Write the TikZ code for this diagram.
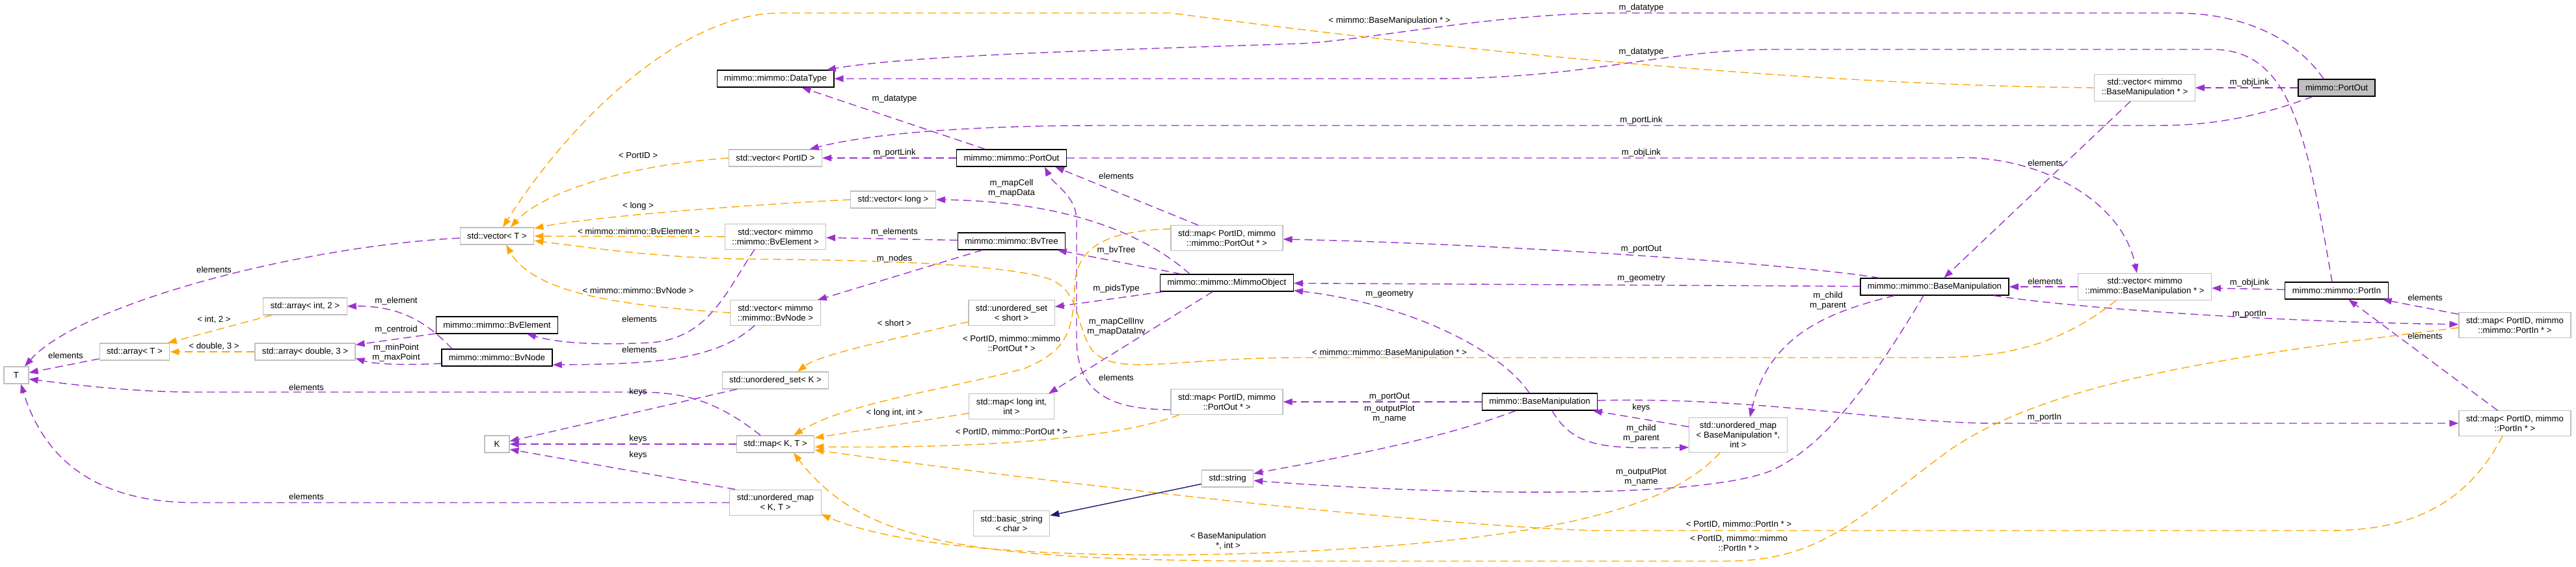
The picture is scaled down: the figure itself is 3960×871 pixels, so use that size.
\documentclass[tikz,border=0pt]{standalone}
\usepackage{fontspec}
\newfontfamily\doxfont{Liberation Sans}
\usepackage{xcolor}
\usepackage{tikz}
\usetikzlibrary{arrows.meta,calc}
\definecolor{edgepurple}{HTML}{9A32CD}
\definecolor{edgeorange}{HTML}{FFA500}
\definecolor{edgenavy}{HTML}{191970}
\definecolor{boxgray}{HTML}{BFBFBF}
\newcommand{\dxfont}{\doxfont\fontsize{13.2pt}{15pt}\selectfont}

\begin{document}
\begin{tikzpicture}[
  x=1pt, y=-1pt,
  box/.style={rectangle, draw=black, line width=1.3pt, fill=white, align=center, inner xsep=11pt, inner ysep=6.8pt, minimum height=26pt, minimum width=38pt, font=\dxfont},
  gbox/.style={box, draw=boxgray, line width=1.1pt},
  focal/.style={box, fill=boxgray},
  mem/.style={draw=edgepurple, line width=1.4pt, dash pattern=on 12pt off 7pt, -{Triangle[length=14pt,width=10pt]}},
  tmpl/.style={mem, draw=edgeorange},
  inh/.style={draw=edgenavy, line width=1.4pt, -{Triangle[length=14pt,width=10pt]}},
  lbl/.style={font=\dxfont, inner sep=0pt, align=center}
]
\useasboundingbox (0,0) rectangle (3960,871);

\node[focal] (portoutg) at (3592,135) {mimmo::PortOut};
\node[gbox] (vecbm) at (3297,135) {std::vector< mimmo\\::BaseManipulation * >};
\node[box] (datatype) at (1192,121) {mimmo::mimmo::DataType};
\node[gbox] (vecportid) at (1192,243) {std::vector< PortID >};
\node[box] (portout) at (1555,243) {mimmo::mimmo::PortOut};
\node[gbox] (veclong) at (1373,307) {std::vector< long >};
\node[gbox] (vecbvel) at (1192,364) {std::vector< mimmo\\::mimmo::BvElement >};
\node[box] (bvtree) at (1555,371) {mimmo::mimmo::BvTree};
\node[gbox] (mapportout) at (1886,366) {std::map< PortID, mimmo\\::mimmo::PortOut * >};
\node[box] (mimmoobj) at (1886,435) {mimmo::mimmo::MimmoObject};
\node[box] (bmm) at (2974,441) {mimmo::mimmo::BaseManipulation};
\node[gbox] (vecbmm) at (3297,441) {std::vector< mimmo\\::mimmo::BaseManipulation * >};
\node[box] (portin) at (3592,447) {mimmo::mimmo::PortIn};
\node[gbox] (mapportinm) at (3866,500) {std::map< PortID, mimmo\\::mimmo::PortIn * >};
\node[gbox] (mapportin) at (3866,651) {std::map< PortID, mimmo\\::PortIn * >};
\node[gbox] (T) at (25,577) {T};
\node[gbox] (arrT) at (207,541) {std::array< T >};
\node[gbox] (arrint) at (469,471) {std::array< int, 2 >};
\node[gbox] (arrdbl) at (469,541) {std::array< double, 3 >};
\node[box] (bvelement) at (764,500) {mimmo::mimmo::BvElement};
\node[box] (bvnode) at (764,550) {mimmo::mimmo::BvNode};
\node[gbox] (K) at (764,683) {K};
\node[gbox] (vecT) at (764,363) {std::vector< T >};
\node[gbox] (vecbvnode) at (1192,481) {std::vector< mimmo\\::mimmo::BvNode >};
\node[gbox] (usetshort) at (1555,481) {std::unordered\_set\\< short >};
\node[gbox] (usetK) at (1192,585) {std::unordered\_set< K >};
\node[gbox] (maplong) at (1555,625) {std::map< long int,\\int >};
\node[gbox] (mapportout2) at (1886,618) {std::map< PortID, mimmo\\::PortOut * >};
\node[gbox] (mapKT) at (1192,683) {std::map< K, T >};
\node[gbox] (string) at (1887,736) {std::string};
\node[gbox] (umapKT) at (1192,773) {std::unordered\_map\\< K, T >};
\node[gbox] (basicstr) at (1555,805) {std::basic\_string\\< char >};
\node[box] (bm) at (2367,618) {mimmo::BaseManipulation};
\node[gbox] (umapbm) at (2672,669) {std::unordered\_map\\< BaseManipulation *,\\int >};

% members
\draw[mem] (portoutg) -- (vecbm) node[lbl] at (3458,127) {m\_objLink};
\draw[mem] ([xshift=-20pt]portoutg.north) .. controls (3530,60) and (3450,20) .. (3343,20) -- (2485,20) .. controls (2300,20) and (2100,62) .. (2000,67) .. controls (1700,77) and (1400,85) .. (datatype) node[lbl] at (2523,12) {m\_datatype};
\draw[mem] ([xshift=-7pt]portin.north) .. controls (3545,200) and (3520,76) .. (3400,76) -- (2734,76) .. controls (2550,76) and (2450,121) .. (2200,121) -- (datatype) node[lbl] at (2523,80) {m\_datatype};
\draw[mem] (portoutg) .. controls (3470,180) and (3400,193) .. (3317,193) -- (1700,193) .. controls (1450,193) and (1320,210) .. (vecportid) node[lbl] at (2523,185) {m\_portLink};
\draw[mem] (portout) -- (vecportid) node[lbl] at (1375,235) {m\_portLink};
\draw[mem] (portout) -- (datatype) node[lbl] at (1375,152) {m\_datatype};
\draw[mem] (portin) -- (vecbmm) node[lbl] at (3458,435) {m\_objLink};
\draw[mem] (portout) -- (3000,243) .. controls (3120,236) and (3260,300) .. ([xshift=-12pt]vecbmm.north) node[lbl] at (2523,235) {m\_objLink};
\draw[mem] (vecbm) -- (bmm) node[lbl] at (3144,251) {elements};
\draw[mem] (vecbmm) -- (bmm) node[lbl] at (3144,433) {elements};
\draw[mem] (mapportinm) -- (portin) node[lbl] at (3728,458) {elements};
\draw[mem] (mapportin) -- (portin) node[lbl] at (3728,517) {elements};
\draw[mem] (bmm) .. controls (3200,475) and (3500,495) .. (mapportinm) node[lbl] at (3458,483) {m\_portIn};
\draw[mem] (bm) .. controls (2700,610) and (2900,650) .. (3062,651) -- (mapportin) node[lbl] at (3143,642) {m\_portIn};
\draw[mem] (bmm) .. controls (2750,405) and (2300,375) .. (mapportout) node[lbl] at (2523,383) {m\_portOut};
\draw[mem] (bmm) -- (mimmoobj) node[lbl] at (2523,429) {m\_geometry};
\draw[mem] ([xshift=-16pt]bm.north) .. controls (2300,530) and (2150,465) .. (mimmoobj) node[lbl] at (2136,453) {m\_geometry};
\draw[mem] (bm) -- (mapportout2) node[lbl] at (2136,610) {m\_portOut};
\draw[mem] (bm) .. controls (2200,680) and (2050,705) .. (string) node[lbl] at (2136,637) {m\_outputPlot\\m\_name};
\draw[mem] ([xshift=-17pt]bmm.south) .. controls (2870,600) and (2800,690) .. (2720,725) .. controls (2600,770) and (2200,760) .. (string) node[lbl] at (2523,734) {m\_outputPlot\\m\_name};
\draw[mem] ([xshift=-62pt]bmm.south) .. controls (2820,478) and (2720,510) .. ([xshift=18pt]umapbm.north) node[lbl] at (2810,463) {m\_child\\m\_parent};
\draw[mem] ([xshift=19pt]bm.south) .. controls (2420,690) and (2470,690) .. ($(umapbm.west)+(0,19)$) node[lbl] at (2523,667) {m\_child\\m\_parent};
\draw[mem] (umapbm) -- (bm) node[lbl] at (2523,627) {keys};
\draw[mem] (mimmoobj) -- (bvtree) node[lbl] at (1716,385) {m\_bvTree};
\draw[mem] ([xshift=-57pt]mimmoobj.north) .. controls (1760,360) and (1640,310) .. (veclong.east) node[lbl] at (1555,290) {m\_mapCell\\m\_mapData};
\draw[mem] ([xshift=-44pt]mapportout.north) -- ([xshift=67pt]portout.south) node[lbl] at (1716,271) {elements};
\draw[mem] ($(mapportout2.west)+(0,12)$) .. controls (1700,630) and (1655,600) .. (1655,520) -- (1655,340) .. controls (1655,300) and (1620,285) .. ([xshift=51pt]portout.south) node[lbl] at (1716,581) {elements};
\draw[mem] (mimmoobj) -- (usetshort) node[lbl] at (1716,444) {m\_pidsType};
\draw[mem] (mimmoobj) -- ([xshift=57pt]maplong.north) node[lbl] at (1716,503) {m\_mapCellInv\\m\_mapDataInv};
\draw[mem] (bvtree) -- (vecbvel) node[lbl] at (1375,357) {m\_elements};
\draw[mem] (bvtree) -- (vecbvnode) node[lbl] at (1375,398) {m\_nodes};
\draw[mem] ([xshift=-32pt]vecbvel.south) .. controls (1115,450) and (1090,520) .. (1000,527) .. controls (900,532) and (850,525) .. ([xshift=46pt]bvelement.south) node[lbl] at (983,491) {elements};
\draw[mem] ([xshift=-32pt]vecbvnode.south) .. controls (1100,555) and (1000,560) .. ($(bvnode.east)+(0,11)$) node[lbl] at (983,538) {elements};
\draw[mem] ([xshift=-69pt]bvnode.north) .. controls (660,500) and (620,470) .. (arrint.east) node[lbl] at (609,463) {m\_element};
\draw[mem] (bvelement) -- (arrdbl) node[lbl] at (609,507) {m\_centroid};
\draw[mem] ($(bvnode.west)+(0,9)$) .. controls (620,562) and (575,560) .. ($(arrdbl.east)+(0,10)$) node[lbl] at (609,543) {m\_minPoint\\m\_maxPoint};
\draw[mem] (arrT) -- (T) node[lbl] at (101,547) {elements};
\draw[mem] (vecT) .. controls (450,380) and (120,470) .. ([xshift=13pt]T.north) node[lbl] at (329,415) {elements};
\draw[mem] ([xshift=-23pt]mapKT.north) .. controls (1100,615) and (1050,603) .. (980,603) -- (300,603) .. controls (200,603) and (100,590) .. ($(T.east)+(0,6)$) node[lbl] at (471,596) {elements};
\draw[mem] (usetK) -- (K) node[lbl] at (981,603) {keys};
\draw[mem] (mapKT) -- (K) node[lbl] at (981,675) {keys};
\draw[mem] ([xshift=-62pt]umapKT.north) -- ($(K.east)+(0,8)$) node[lbl] at (981,700) {keys};
\draw[mem] (umapKT.west) -- (300,773) .. controls (120,773) and (60,680) .. ([xshift=7pt]T.south) node[lbl] at (471,764) {elements};

% templates
\draw[tmpl] (vecbm.west) .. controls (2700,130) and (2100,60) .. (1800,20) -- (1200,20) .. controls (1050,20) and (880,180) .. ([xshift=9pt]vecT.north) node[lbl] at (2136,32) {< mimmo::BaseManipulation * >};
\draw[tmpl] (vecportid.west) .. controls (950,255) and (830,300) .. ([xshift=21pt]vecT.north) node[lbl] at (981,239) {< PortID >};
\draw[tmpl] (veclong.west) .. controls (1100,318) and (900,335) .. (vecT) node[lbl] at (981,317) {< long >};
\draw[tmpl] (vecbvel) -- (vecT) node[lbl] at (982,356) {< mimmo::mimmo::BvElement >};
\draw[tmpl] (vecbvnode.west) .. controls (950,470) and (820,450) .. ([xshift=14pt]vecT.south) node[lbl] at (981,447) {< mimmo::mimmo::BvNode >};
\draw[tmpl] ([xshift=-44pt]vecbmm.south) .. controls (3150,545) and (3050,550) .. (2960,550) -- (2000,550) .. controls (1800,550) and (1720,580) .. (1680,540) .. controls (1650,500) and (1665,440) .. (1600,425) .. controls (1500,402) and (1300,400) .. (1128,398) .. controls (1000,395) and (900,380) .. (vecT) node[lbl] at (2136,543) {< mimmo::mimmo::BaseManipulation * >};
\draw[tmpl] ($(mapportout.west)+(0,-14)$) .. controls (1700,355) and (1655,380) .. (1652,440) .. controls (1650,510) and (1640,540) .. (1574,567) .. controls (1450,600) and (1300,620) .. ([xshift=28pt]mapKT.north) node[lbl] at (1555,528) {< PortID, mimmo::mimmo\\::PortOut * >};
\draw[tmpl] ($(usetshort.west)+(0,14)$) .. controls (1380,520) and (1260,545) .. ([xshift=34pt]usetK.north) node[lbl] at (1375,497) {< short >};
\draw[tmpl] (maplong) -- (mapKT) node[lbl] at (1375,635) {< long int, int >};
\draw[tmpl] ([xshift=-73pt]mapportout2.south) .. controls (1720,675) and (1500,690) .. ($(mapKT.east)+(0,4)$) node[lbl] at (1555,665) {< PortID, mimmo::PortOut * >};
\draw[tmpl] ([xshift=-19pt]mapportin.south) .. controls (3790,780) and (3700,816) .. (3580,816) -- (2450,816) .. controls (2150,805) and (1600,740) .. ($(mapKT.east)+(0,9)$) node[lbl] at (2673,807) {< PortID, mimmo::PortIn * >};
\draw[tmpl] ($(mapportinm.west)+(0,4)$) .. controls (3400,550) and (3150,590) .. (3000,690) .. controls (2850,800) and (2800,863) .. (2650,863) -- (2000,863) .. controls (1500,863) and (1330,840) .. ([xshift=28pt]mapKT.south) node[lbl] at (2673,835) {< PortID, mimmo::mimmo\\::PortIn * >};
\draw[tmpl] ([xshift=-28pt]umapbm.south) .. controls (2560,790) and (2350,830) .. (2000,848) .. controls (1700,862) and (1400,850) .. ($(umapKT.east)+(0,18)$) node[lbl] at (1888,832) {< BaseManipulation\\*, int >};
\draw[tmpl] (arrint) -- (arrT) node[lbl] at (329,492) {< int, 2 >};
\draw[tmpl] (arrdbl) -- (arrT) node[lbl] at (329,533) {< double, 3 >};

% inheritance
\draw[inh] (string) -- (basicstr);

\end{tikzpicture}
\end{document}
